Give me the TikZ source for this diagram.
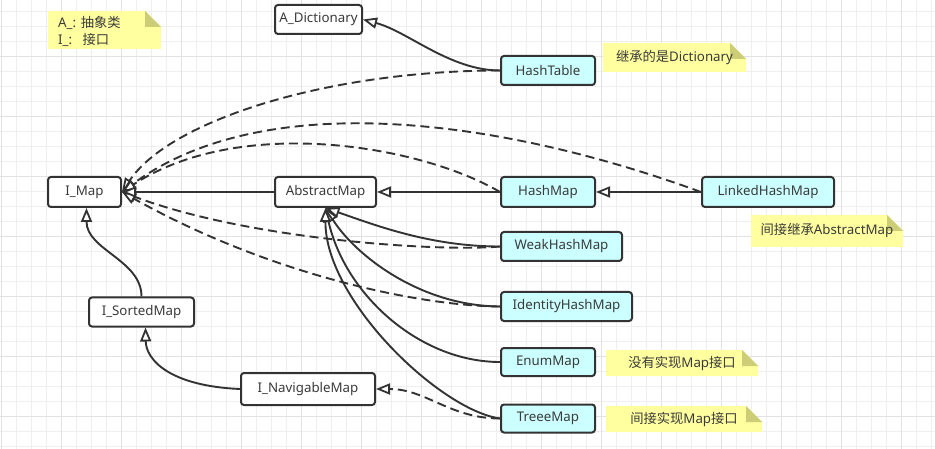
\documentclass[tikz,border=0pt]{standalone}
\usepackage{fontspec}
\setmainfont{Noto Sans}
\newfontfamily\cjk{Noto Sans CJK SC}
\usetikzlibrary{arrows.meta,calc}
\definecolor{ink}{HTML}{333333}
\definecolor{txt}{HTML}{3A3A3A}
\definecolor{cyanfill}{HTML}{CCFFFF}
\definecolor{notefill}{HTML}{FFFFA0}
\definecolor{foldfill}{HTML}{CDCD78}
\definecolor{gridminor}{HTML}{EFEFEF}
\definecolor{gridmajor}{HTML}{E2E2E2}
\newcommand\mynote[6]{%
  \fill[notefill] (#2,#3) -- ({#4-16},#3) -- (#4,{#3+16}) -- (#4,#5) -- (#2,#5) -- cycle;
  \fill[foldfill] ({#4-16},#3) -- ({#4-16},{#3+16}) -- (#4,{#3+16}) -- cycle;
  \node[notetext] (#1) at ({(#2+#4)/2},{(#3+#5)/2}) {#6};
}
\tikzset{
  basebox/.style={draw=ink, line width=2pt, rounded corners=3pt, inner sep=0pt,
    text=txt, font=\fontsize{13.3}{15}\selectfont, fill=white},
  clsbox/.style={basebox, fill=cyanfill},
  notetext/.style={inner sep=0pt, text=txt, font=\fontsize{13.3}{15}\selectfont},
  inh/.style={draw=ink, line width=1.9pt, -{Triangle[fill=white,length=14pt,width=11pt,line width=1.8pt]}},
  impl/.style={inh, dash pattern=on 9pt off 5pt},
}
\begin{document}
\begin{tikzpicture}[x=1pt,y=-1pt]
\useasboundingbox (0,0) rectangle (935,449);
\fill[white] (0,0) rectangle (935,449);
% grid
\foreach \i in {0,...,62} \draw[gridminor, line width=1pt] ({1.5+15*\i},0) -- ({1.5+15*\i},449);
\foreach \j in {0,...,29} \draw[gridminor, line width=1pt] (0,{11.5+15*\j}) -- (935,{11.5+15*\j});
\foreach \i in {0,...,15} \draw[gridmajor, line width=1pt] ({1.5+60*\i},0) -- ({1.5+60*\i},449);
\foreach \j in {0,...,6} \draw[gridmajor, line width=1pt] (0,{56.5+60*\j}) -- (935,{56.5+60*\j});

% notes
\fill[notefill] (48,11) -- (145,11) -- (161,27) -- (161,49) -- (48,49) -- cycle;
\fill[foldfill] (145,11) -- (145,27) -- (161,27) -- cycle;
\node[notetext, anchor=west, align=left, font=\fontsize{13.3}{16.5}\selectfont] (legend) at (58,31.5) {A\_: {\cjk 抽象类}\\I\_:\ \ \ {\cjk 接口}};
\mynote{noteHT}{603}{43}{746}{72}{{\cjk 继承的是}Dictionary}
\mynote{noteLHM}{751}{215}{903}{247}{{\cjk 间接继承}AbstractMap}
\mynote{noteEM}{606}{350}{758}{376}{{\cjk 没有实现}Map{\cjk 接口}}
\mynote{noteTM}{606}{406}{762}{432}{{\cjk 间接实现}Map{\cjk 接口}}

% nodes
\node[basebox, minimum width=87pt, minimum height=29pt] (A_Dictionary) at (318.5,19.5) {A\_Dictionary};
\node[clsbox, minimum width=94pt, minimum height=29pt] (HashTable) at (548,70.5) {HashTable};
\node[basebox, minimum width=73pt, minimum height=30pt] (I_Map) at (84.5,192) {I\_Map};
\node[basebox, minimum width=101pt, minimum height=30pt] (AbstractMap) at (325.5,192) {AbstractMap};
\node[clsbox, minimum width=94pt, minimum height=30pt] (HashMap) at (548,192) {HashMap};
\node[clsbox, minimum width=132pt, minimum height=30pt] (LinkedHashMap) at (768,192) {LinkedHashMap};
\node[clsbox, minimum width=121pt, minimum height=29pt] (WeakHashMap) at (561.5,246.5) {WeakHashMap};
\node[clsbox, minimum width=131pt, minimum height=29pt] (IdentityHashMap) at (566.5,306.5) {IdentityHashMap};
\node[basebox, minimum width=105pt, minimum height=29pt] (I_SortedMap) at (141.5,312) {I\_SortedMap};
\node[basebox, minimum width=134pt, minimum height=32pt] (I_NavigableMap) at (308,389) {I\_NavigableMap};
\node[clsbox, minimum width=94pt, minimum height=28pt] (EnumMap) at (548,362) {EnumMap};
\node[clsbox, minimum width=94pt, minimum height=28pt] (TreeeMap) at (548,418.5) {TreeeMap};

% connectors
\draw[inh] (HashTable.west) .. controls ($(HashTable.west)+(-50,0)$) and ($(A_Dictionary.east)+(45,12)$) .. (A_Dictionary.east);
\draw[impl] (HashTable.west) .. controls ($(HashTable.west)+(-171,0)$) and (170,120) .. (I_Map.east);
\draw[impl] (LinkedHashMap.west) .. controls (490,115) and (260,90) .. (I_Map.east);
\draw[impl] (HashMap.west) .. controls (420,145) and (240,115) .. (I_Map.east);
\draw[impl] (WeakHashMap.west) .. controls (440,252) and (250,240) .. (I_Map.east);
\draw[impl] (IdentityHashMap.west) .. controls (420,306) and (270,275) .. (I_Map.east);
\draw[inh] (AbstractMap.west) -- (I_Map.east);
\draw[inh] (HashMap.west) -- (AbstractMap.east);
\draw[inh] (LinkedHashMap.west) -- (HashMap.east);
\draw[inh] (WeakHashMap.west) .. controls (430,246.5) and (375,225) .. (AbstractMap.south);
\draw[inh] (IdentityHashMap.west) .. controls (420,306) and (355,255) .. (AbstractMap.south);
\draw[inh] (EnumMap.west) .. controls (420,362) and (345,295) .. (AbstractMap.south);
\draw[inh] (TreeeMap.west) .. controls (440,410) and (325,300) .. (AbstractMap.south);
\draw[impl] (TreeeMap.west) .. controls ($(TreeeMap.west)+(-50,0)$) and ($(I_NavigableMap.east)+(50,0)$) .. (I_NavigableMap.east);
\coordinate (sortedIn) at ($(I_SortedMap.south)+(4,0)$);
\draw[inh] (I_NavigableMap.west) .. controls (170,386) and (146,360) .. (sortedIn);
\coordinate (mapIn) at ($(I_Map.south)+(2,0)$);
\coordinate (sortedOut) at ($(I_SortedMap.north)+(0,0)$);
\draw[inh] (sortedOut) .. controls (141.5,260) and (86.5,250) .. (mapIn);
\end{tikzpicture}
\end{document}
